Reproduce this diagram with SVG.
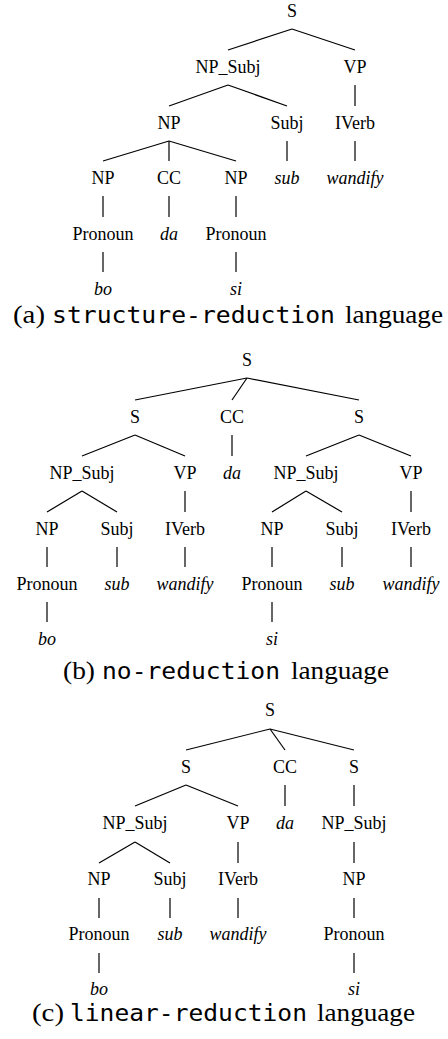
<svg xmlns="http://www.w3.org/2000/svg" width="448" height="1039" viewBox="0 0 448 1039">
<style>
.n{font-family:"Liberation Serif","Times New Roman",serif;font-size:18px;text-anchor:middle;fill:#000}
.t{font-family:"Liberation Serif","Times New Roman",serif;font-size:18px;font-style:italic;text-anchor:middle;fill:#000}
.cs{font-family:"Liberation Serif","Times New Roman",serif;font-size:26px;fill:#000}
.cm{font-family:"DejaVu Sans Mono","Liberation Mono",monospace;font-size:23px;fill:#000}
.e line{stroke:#000;stroke-width:1.2;fill:none}
</style>
<rect width="448" height="1039" fill="#fff"/>

<!-- Tree (a) -->
<g id="edges-a" class="e">
<line x1="292" y1="29" x2="228" y2="50"/>
<line x1="292" y1="29" x2="355" y2="50"/>
<line x1="228" y1="85" x2="169" y2="106"/>
<line x1="228" y1="85" x2="287" y2="106"/>
<line x1="355" y1="85" x2="355" y2="106"/>
<line x1="169" y1="141" x2="103" y2="161"/>
<line x1="169" y1="141" x2="169" y2="161"/>
<line x1="169" y1="141" x2="236" y2="161"/>
<line x1="287" y1="141" x2="287" y2="161"/>
<line x1="355" y1="141" x2="355" y2="161"/>
<line x1="103" y1="196" x2="103" y2="217"/>
<line x1="169" y1="196" x2="169" y2="217"/>
<line x1="236" y1="196" x2="236" y2="217"/>
<line x1="103" y1="252" x2="103" y2="272"/>
<line x1="236" y1="252" x2="236" y2="272"/>
</g>
<g id="a-S"><text class="n" x="292" y="17">S</text></g>
<g id="a-NP_Subj"><text class="n" x="228" y="73">NP_Subj</text></g>
<g id="a-VP"><text class="n" x="355" y="73">VP</text></g>
<g id="a-NP"><text class="n" x="169" y="129">NP</text></g>
<g id="a-Subj"><text class="n" x="287" y="129">Subj</text></g>
<g id="a-IVerb"><text class="n" x="355" y="129">IVerb</text></g>
<g id="a-NP1"><text class="n" x="103" y="184">NP</text></g>
<g id="a-CC"><text class="n" x="169" y="184">CC</text></g>
<g id="a-NP2"><text class="n" x="236" y="184">NP</text></g>
<g id="a-sub"><text class="t" x="287" y="184">sub</text></g>
<g id="a-wandify"><text class="t" x="355" y="184">wandify</text></g>
<g id="a-Pronoun1"><text class="n" x="103" y="240">Pronoun</text></g>
<g id="a-da"><text class="t" x="169" y="240">da</text></g>
<g id="a-Pronoun2"><text class="n" x="236" y="240">Pronoun</text></g>
<g id="a-bo"><text class="t" x="103" y="295">bo</text></g>
<g id="a-si"><text class="t" x="236" y="295">si</text></g>
<g id="caption-a">
<text class="cs" x="13" y="323" textLength="32" lengthAdjust="spacingAndGlyphs">(a)</text>
<text class="cm" x="52" y="323" textLength="283" lengthAdjust="spacingAndGlyphs">structure-reduction</text>
<text class="cs" x="345" y="323" textLength="98" lengthAdjust="spacingAndGlyphs">language</text>
</g>

<!-- Tree (b) -->
<g id="edges-b" class="e">
<line x1="247" y1="378" x2="135" y2="400"/>
<line x1="247" y1="378" x2="232" y2="400"/>
<line x1="247" y1="378" x2="359" y2="400"/>
<line x1="135" y1="435" x2="82" y2="456"/>
<line x1="135" y1="435" x2="185" y2="456"/>
<line x1="232" y1="435" x2="232" y2="456"/>
<line x1="359" y1="435" x2="306" y2="456"/>
<line x1="359" y1="435" x2="411" y2="456"/>
<line x1="82" y1="491" x2="47" y2="512"/>
<line x1="82" y1="491" x2="117" y2="512"/>
<line x1="185" y1="491" x2="185" y2="512"/>
<line x1="306" y1="491" x2="272" y2="512"/>
<line x1="306" y1="491" x2="342" y2="512"/>
<line x1="411" y1="491" x2="411" y2="512"/>
<line x1="47" y1="547" x2="47" y2="567"/>
<line x1="117" y1="547" x2="117" y2="567"/>
<line x1="185" y1="547" x2="185" y2="567"/>
<line x1="272" y1="547" x2="272" y2="567"/>
<line x1="342" y1="547" x2="342" y2="567"/>
<line x1="411" y1="547" x2="411" y2="567"/>
<line x1="47" y1="602" x2="47" y2="622"/>
<line x1="272" y1="602" x2="272" y2="622"/>
</g>
<g id="b-S"><text class="n" x="247" y="366">S</text></g>
<g id="b-S1"><text class="n" x="135" y="423">S</text></g>
<g id="b-CC"><text class="n" x="232" y="423">CC</text></g>
<g id="b-S2"><text class="n" x="359" y="423">S</text></g>
<g id="b-NP_Subj1"><text class="n" x="82" y="479">NP_Subj</text></g>
<g id="b-VP1"><text class="n" x="185" y="479">VP</text></g>
<g id="b-da"><text class="t" x="232" y="479">da</text></g>
<g id="b-NP_Subj2"><text class="n" x="306" y="479">NP_Subj</text></g>
<g id="b-VP2"><text class="n" x="411" y="479">VP</text></g>
<g id="b-NP1"><text class="n" x="47" y="535">NP</text></g>
<g id="b-Subj1"><text class="n" x="117" y="535">Subj</text></g>
<g id="b-IVerb1"><text class="n" x="185" y="535">IVerb</text></g>
<g id="b-NP2"><text class="n" x="272" y="535">NP</text></g>
<g id="b-Subj2"><text class="n" x="342" y="535">Subj</text></g>
<g id="b-IVerb2"><text class="n" x="411" y="535">IVerb</text></g>
<g id="b-Pronoun1"><text class="n" x="47" y="590">Pronoun</text></g>
<g id="b-sub1"><text class="t" x="117" y="590">sub</text></g>
<g id="b-wandify1"><text class="t" x="185" y="590">wandify</text></g>
<g id="b-Pronoun2"><text class="n" x="272" y="590">Pronoun</text></g>
<g id="b-sub2"><text class="t" x="342" y="590">sub</text></g>
<g id="b-wandify2"><text class="t" x="411" y="590">wandify</text></g>
<g id="b-bo"><text class="t" x="47" y="645">bo</text></g>
<g id="b-si"><text class="t" x="272" y="645">si</text></g>
<g id="caption-b">
<text class="cs" x="63" y="679" textLength="32" lengthAdjust="spacingAndGlyphs">(b)</text>
<text class="cm" x="102" y="679" textLength="178" lengthAdjust="spacingAndGlyphs">no-reduction</text>
<text class="cs" x="291" y="679" textLength="98" lengthAdjust="spacingAndGlyphs">language</text>
</g>

<!-- Tree (c) -->
<g id="edges-c" class="e">
<line x1="270" y1="729" x2="186" y2="750"/>
<line x1="270" y1="729" x2="285" y2="750"/>
<line x1="270" y1="729" x2="354" y2="750"/>
<line x1="186" y1="785" x2="135" y2="806"/>
<line x1="186" y1="785" x2="238" y2="806"/>
<line x1="285" y1="785" x2="285" y2="806"/>
<line x1="354" y1="785" x2="354" y2="806"/>
<line x1="135" y1="842" x2="99" y2="863"/>
<line x1="135" y1="842" x2="170" y2="863"/>
<line x1="238" y1="842" x2="238" y2="863"/>
<line x1="354" y1="842" x2="354" y2="863"/>
<line x1="99" y1="898" x2="99" y2="918"/>
<line x1="170" y1="898" x2="170" y2="918"/>
<line x1="238" y1="898" x2="238" y2="918"/>
<line x1="354" y1="898" x2="354" y2="918"/>
<line x1="99" y1="953" x2="99" y2="973"/>
<line x1="354" y1="953" x2="354" y2="973"/>
</g>
<g id="c-S"><text class="n" x="270" y="716">S</text></g>
<g id="c-S1"><text class="n" x="186" y="773">S</text></g>
<g id="c-CC"><text class="n" x="285" y="773">CC</text></g>
<g id="c-S2"><text class="n" x="354" y="773">S</text></g>
<g id="c-NP_Subj1"><text class="n" x="135" y="829">NP_Subj</text></g>
<g id="c-VP"><text class="n" x="238" y="829">VP</text></g>
<g id="c-da"><text class="t" x="285" y="829">da</text></g>
<g id="c-NP_Subj2"><text class="n" x="354" y="829">NP_Subj</text></g>
<g id="c-NP1"><text class="n" x="99" y="885">NP</text></g>
<g id="c-Subj"><text class="n" x="170" y="885">Subj</text></g>
<g id="c-IVerb"><text class="n" x="238" y="885">IVerb</text></g>
<g id="c-NP2"><text class="n" x="354" y="885">NP</text></g>
<g id="c-Pronoun1"><text class="n" x="99" y="940">Pronoun</text></g>
<g id="c-sub"><text class="t" x="170" y="940">sub</text></g>
<g id="c-wandify"><text class="t" x="238" y="940">wandify</text></g>
<g id="c-Pronoun2"><text class="n" x="354" y="940">Pronoun</text></g>
<g id="c-bo"><text class="t" x="99" y="995">bo</text></g>
<g id="c-si"><text class="t" x="354" y="995">si</text></g>
<g id="caption-c">
<text class="cs" x="32" y="1021" textLength="32" lengthAdjust="spacingAndGlyphs">(c)</text>
<text class="cm" x="70" y="1021" textLength="237" lengthAdjust="spacingAndGlyphs">linear-reduction</text>
<text class="cs" x="317" y="1021" textLength="98" lengthAdjust="spacingAndGlyphs">language</text>
</g>
</svg>
